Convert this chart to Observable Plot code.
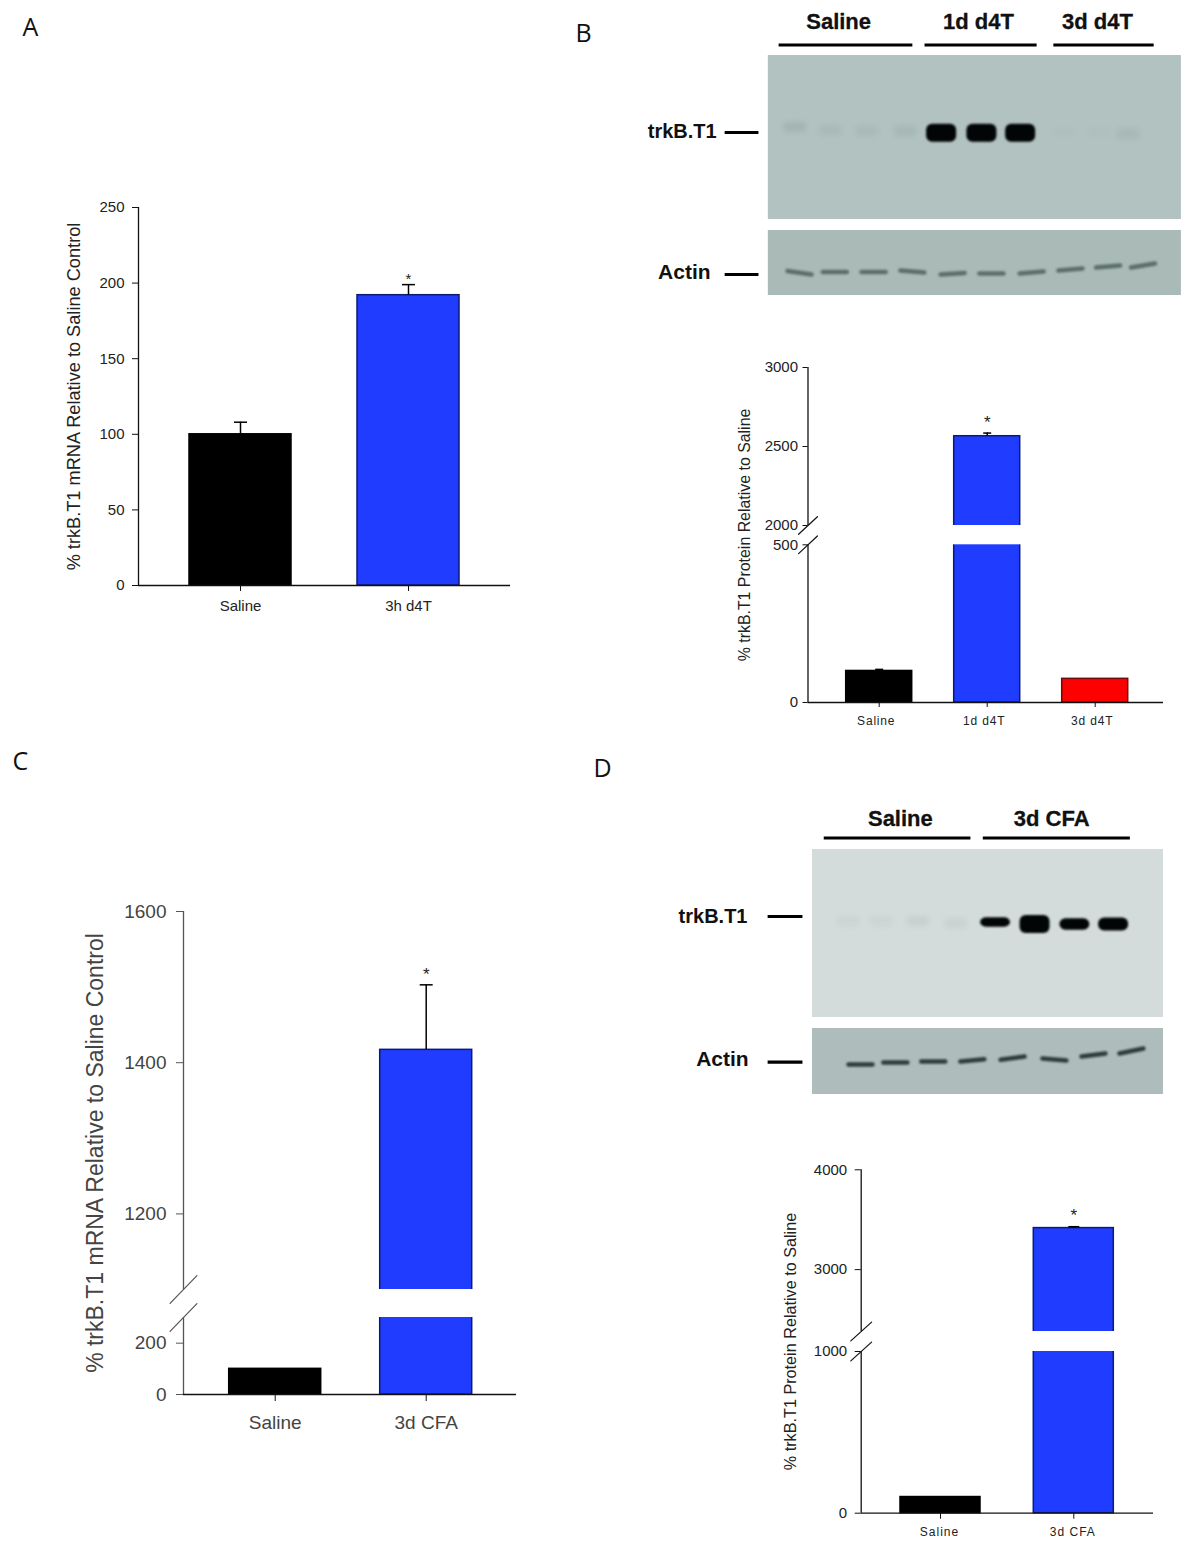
<!DOCTYPE html>
<html>
<head>
<meta charset="utf-8">
<script src="https://cdn.jsdelivr.net/npm/d3@7"></script>
<script src="https://cdn.jsdelivr.net/npm/@observablehq/plot@0.6"></script>
<style>
html,body{margin:0;padding:0;background:#fff}
#page{position:relative;width:1200px;height:1553px;overflow:hidden;background:#fff}
#page svg{position:absolute;background:transparent;overflow:visible}
</style>
</head>
<body>
<div id="page"></div>
<script>
// ---------- bar chart values ----------
const catsA = ["Saline", "3h d4T"];
const valuesA = [100, 192];
const errorsA = [108, 199];
const starsA = [1];
const ticksA = [0, 50, 100, 150, 200, 250];
const labelA = "% trkB.T1 mRNA Relative to Saline Control";

const catsB = ["Saline", "1d d4T", "3d d4T"];
const valuesB = [100, 2565, 75];
const errorsB = [105, 2585, null];
const starsB = [1];
const ticksB = [0, 500, 2000, 2500, 3000];
const breakB = [500, 2000];
const labelB = "% trkB.T1 Protein Relative to Saline";

const catsC = ["Saline", "3d CFA"];
const valuesC = [100, 1417];
const errorsC = [null, 1503];
const starsC = [1];
const ticksC = [0, 200, 1200, 1400, 1600];
const breakC = [300, 1100];
const labelC = "% trkB.T1 mRNA Relative to Saline Control";

const catsD = ["Saline", "3d CFA"];
const valuesD = [100, 3416];
const errorsD = [null, 3430];
const starsD = [1];
const ticksD = [0, 1000, 3000, 4000];
const breakD = [1000, 2380];
const labelD = "% trkB.T1 Protein Relative to Saline";

const barColors = ["#000000", "#1f3cff", "#ff0000"];
const barEdges = ["#000000", "#0c1a70", "#6d0a0a"];

// ---------- blot readings (lane number, migration distance, signal) ----------
const groupsB = ["Saline", "1d d4T", "3d d4T"];
const groupStartB = [0.45, 4.29, 7.68];
const groupEndB = [3.97, 7.24, 10.32];
const groupMidB = [2.03, 5.71, 8.84];
const trkLaneB = [0.89, 1.82, 2.78, 3.79, 4.74, 5.8, 6.82, 7.95, 8.9, 9.66];
const trkSignalB = [0.09, 0.05, 0.05, 0.07, 1, 1, 1, 0.015, 0.01, 0.06];
const trkMigrationB = [72, 75, 76, 76, 77.7, 77.7, 77.7, 77, 77, 79];
const actinLaneB = [1, 1.93, 2.95, 3.97, 5.03, 6.05, 7.11, 8.13, 9.12, 10.04];
const actinLeftB = [40.5, 41.5, 41.5, 40, 44, 43, 43, 40, 37, 37];
const actinRightB = [44, 41.5, 41.5, 42, 42.5, 43, 41, 38, 35, 33];

const groupsD = ["Saline", "3d CFA"];
const groupStartD = [0.05, 4.16];
const groupEndD = [3.84, 7.96];
const groupMidD = [2.03, 5.94];
const trkLaneD = [0.7, 1.55, 2.49, 3.47, 4.49, 5.51, 6.54, 7.54];
const trkSignalD = [0.04, 0.04, 0.06, 0.05, 0.72, 1, 0.8, 0.85];
const trkMigrationD = [72, 72, 72, 74, 73, 75, 75, 75];
const actinLaneD = [1, 1.9, 2.88, 3.89, 4.93, 6.01, 7.02, 8];
const actinLeftD = [36, 34, 33, 33, 31.3, 30, 28, 25];
const actinRightD = [36, 34, 33, 30.7, 28, 32, 25, 20];

// ---------- layout ----------
const page = document.getElementById("page");
const FONT = "'Liberation Sans', Arial, sans-serif";
function place(svg, box) {
  svg.style.left = box.left + "px";
  svg.style.top = box.top + "px";
  page.appendChild(svg);
}

function barPanel(o) {
  const b = o.box;
  const c0 = o.centers[0], c1 = o.centers[1];
  const half = o.barWidth / 2 / (c1 - c0);
  const capHalf = o.cap / (c1 - c0);
  const axisAt = (o.axisX - c0) / (c1 - c0);
  const bars = o.values.map((v, i) => ({i, v, e: o.errors[i]}));
  const errs = bars.filter(d => d.e != null);
  const yDomain = o.brk ? [0, o.brk[0], o.brk[1], o.top] : [0, o.top];
  const yR = o.yRange.map(v => v - b.top);
  const frameTop = o.yRange[o.yRange.length - 1];
  const segs = o.brk ? [[0, o.brk[0]], [o.brk[1], o.top]] : [[0, o.top]];
  const tickIdx = o.values.map((_, i) => i);
  const ink = o.ink || "#222";
  const marks = [
    Plot.rect(bars, {x1: d => d.i - half, x2: d => d.i + half, y1: 0, y2: d => d.v,
      fill: d => barColors[o.colorIdx[d.i]], stroke: d => barEdges[o.colorIdx[d.i]], strokeWidth: 1.5})
  ];
  if (o.brk) {
    marks.push(Plot.rect(bars.filter(d => d.v > o.brk[1]), {
      x1: d => d.i - half * 1.1, x2: d => d.i + half * 1.1, y1: o.brk[0], y2: o.brk[1], fill: "#fff"}));
    marks.push(Plot.vector(o.brk, {y: d => d, frameAnchor: "left", length: o.slash[0], rotate: o.slash[1],
      anchor: "middle", stroke: o.axisColor, strokeWidth: 1.2,
      shape: {draw(ctx, l) { ctx.moveTo(0, 0); ctx.lineTo(0, -l); }}}));
  }
  marks.push(
    Plot.ruleX(errs, {x: d => d.i, y1: d => d.v, y2: d => d.e, stroke: "#000", strokeWidth: 1.5}),
    Plot.link(errs, {x1: d => d.i - capHalf, x2: d => d.i + capHalf, y1: d => d.e, y2: d => d.e, stroke: "#000", strokeWidth: 1.5}),
    Plot.text(o.stars, {x: i => i, y: i => o.errors[i], text: () => "*", dy: o.starDy, fontSize: o.starSize, fill: "#222"}),
    Plot.ruleX(segs, {x: () => axisAt, y1: d => d[0], y2: d => d[1], stroke: o.axisColor, strokeWidth: 1.3}),
    Plot.ruleY([0], {stroke: "#111", strokeWidth: 1.3}),
    Plot.axisY({ticks: o.ticks, tickSize: o.tick, tickPadding: o.tickPad, tickFormat: d => String(d), fontSize: o.fontY, label: null, stroke: o.axisColor, color: ink}),
    Plot.axisX({ticks: tickIdx, tickSize: o.tick, tickFormat: () => "", label: null, stroke: "#111"}),
    Plot.axisX({ticks: tickIdx, tickSize: 0, tickPadding: o.xPad, tickFormat: i => o.cats[i], fontSize: o.fontX, label: null, color: ink, dx: o.labelShift || 0}),
    Plot.text([o.label], {frameAnchor: "left", textAnchor: "middle", dx: o.labelDx, rotate: -90, fontSize: o.labelSize, fill: ink})
  );
  if (o.letter) marks.push(Plot.text([o.letter[0]], {frameAnchor: "top-left", textAnchor: "start",
    dx: o.letter[1] - o.axisX, dy: o.letter[2] - frameTop, fontSize: 25, fontFamily: "'Open Sans'", fill: "#111"}));
  const svg = Plot.plot({
    width: b.w, height: b.h,
    marginLeft: o.axisX - b.left,
    marginRight: b.left + b.w - o.xEnd,
    marginTop: frameTop - b.top,
    marginBottom: b.top + b.h - o.yRange[0],
    x: {type: "linear", domain: [0, 1], range: [c0 - b.left, c1 - b.left]},
    y: {type: "linear", domain: yDomain, range: yR},
    style: {fontFamily: FONT, background: "transparent"},
    marks
  });
  if (o.spacing) svg.querySelectorAll('[aria-label="x-axis tick label"]').forEach(g => { g.style.letterSpacing = o.spacing; });
  place(svg, b);
}

function blotPanel(o) {
  const b = o.box;
  const laneStep = o.laneStep;
  const y0 = o.gelTop - b.top;
  const yA = o.actinTop - b.top;
  const trk = o.trkLane.map((l, i) => ({l, s: o.trkSignal[i], m: o.trkMigration[i]}));
  const act = o.actinLane.map((l, i) => ({l, a: o.actinLeft[i], c: o.actinRight[i]}));
  const groups = o.groups.map((g, i) => ({g, s: o.groupStart[i], e: o.groupEnd[i], m: o.groupMid[i]}));
  const hw = 15 / laneStep, ahw = 12 / laneStep;
  const band = s => 18 * s * s;
  const svg = Plot.plot({
    width: b.w, height: b.h, margin: 0,
    x: {type: "linear", domain: [1, 2], range: [o.lane1 - b.left, o.lane1 + laneStep - b.left], axis: null},
    y: {type: "linear", domain: [0, b.h], range: [0, b.h], axis: null},
    style: {fontFamily: FONT, background: "transparent"},
    marks: [
      // gels
      Plot.rect([0], {x1: o.gelX[0], x2: o.gelX[1], y1: y0, y2: y0 + o.gelH, fill: o.gelColor}),
      Plot.rect([0], {x1: o.gelX[0], x2: o.gelX[1], y1: yA, y2: yA + o.actinH, fill: o.actinColor}),
      // faint trkB.T1 bands
      Plot.rect(trk.filter(d => d.s <= .5), {x1: d => d.l - hw * .75, x2: d => d.l + hw * .75,
        y1: d => y0 + d.m - 5, y2: d => y0 + d.m + 5,
        fill: "#1a2a28", fillOpacity: d => d.s, rx: 4, imageFilter: "blur(2.5px)"}),
      // strong trkB.T1 bands
      Plot.rect(trk.filter(d => d.s > .5), {x1: d => d.l - hw, x2: d => d.l + hw,
        y1: d => y0 + d.m - band(d.s) / 2, y2: d => y0 + d.m + band(d.s) / 2,
        fill: "#020505", rx: 6, imageFilter: "blur(0.9px)"}),
      // actin bands
      Plot.link(act, {x1: d => d.l - ahw, x2: d => d.l + ahw, y1: d => yA + d.a, y2: d => yA + d.c,
        stroke: o.actinBand, strokeWidth: 4.5, strokeLinecap: "round", imageFilter: "blur(0.9px)"}),
      // group headers
      Plot.link(groups, {x1: "s", x2: "e", y1: o.headY - b.top, y2: o.headY - b.top, stroke: "#000", strokeWidth: 3}),
      Plot.text(groups, {x: "m", y: o.headTextY - b.top, text: "g", fontSize: 22, fontWeight: "bold", fill: "#111", stroke: "#111", strokeWidth: 0.3}),
      // row markers
      Plot.link([y0 + o.trkDash, yA + o.actDash], {x1: o.dash[0], x2: o.dash[1], y1: d => d, y2: d => d, stroke: "#000", strokeWidth: 3.2}),
      Plot.text(["trkB.T1", "Actin"], {x: (d, i) => o.nameEnd[i], y: (d, i) => o.nameY[i] - b.top, text: d => d,
        textAnchor: "end", fontSize: d => d === "Actin" ? 21 : 20, fontWeight: "bold", fill: "#111"}),
      Plot.text([o.letter[0]], {frameAnchor: "top-left", textAnchor: "start", dx: o.letter[1] - b.left, dy: o.letter[2] - b.top,
        fontSize: 25, fontFamily: "'Open Sans'", fill: "#111"})
    ]
  });
  place(svg, b);
}

// ---------- panels ----------
barPanel({
  box: {left: 0, top: 0, w: 560, h: 680}, axisX: 138, xEnd: 510, yRange: [585, 207], top: 250,
  centers: [240, 408], barWidth: 102, cap: 6.5, cats: catsA, values: valuesA, errors: errorsA, stars: starsA, colorIdx: [0, 1],
  ticks: ticksA, tick: 6, tickPad: 8, fontY: 15, fontX: 15, xPad: 15, label: labelA, labelDx: -64, labelSize: 18.2, starSize: 15, starDy: -5,
  axisColor: "#111", letter: ["A", 22, 18]
});
barPanel({
  box: {left: 700, top: 350, w: 500, h: 390}, axisX: 807.5, xEnd: 1163, yRange: [702, 544.3, 525, 367], top: 3000, brk: breakB,
  centers: [878.7, 986.7], barWidth: 66, cap: 4, cats: catsB, values: valuesB, errors: errorsB, stars: starsB, colorIdx: [0, 1, 2],
  ticks: ticksB, tick: 5, tickPad: 5, fontY: 15, fontX: 12, xPad: 14, labelShift: -3, label: labelB, labelDx: -63, labelSize: 15.9, starSize: 17, starDy: -11,
  axisColor: "#111", slash: [25.8, 47], spacing: "0.8px"
});
barPanel({
  box: {left: 0, top: 740, w: 560, h: 720}, axisX: 183, xEnd: 516, yRange: [1394, 1317, 1289, 911], top: 1600, brk: breakC,
  centers: [274.7, 425.7], barWidth: 92, cap: 6.5, cats: catsC, values: valuesC, errors: errorsC, stars: starsC, colorIdx: [0, 1],
  ticks: ticksC, tick: 7, tickPad: 10, fontY: 19, fontX: 19, xPad: 21, label: labelC, labelDx: -88, labelSize: 23, starSize: 17, starDy: -10,
  axisColor: "#555", ink: "#444", slash: [38.7, 44], letter: ["C", 12, 752]
});
barPanel({
  box: {left: 760, top: 1150, w: 440, h: 403}, axisX: 860.7, xEnd: 1153, yRange: [1512.7, 1351, 1331, 1169.3], top: 4000, brk: breakD,
  centers: [940, 1073.3], barWidth: 80, cap: 5.5, cats: catsD, values: valuesD, errors: errorsD, stars: starsD, colorIdx: [0, 1],
  ticks: ticksD, tick: 6, tickPad: 8, fontY: 15, fontX: 12, xPad: 14, labelShift: -1, label: labelD, labelDx: -70, labelSize: 16.2, starSize: 17, starDy: -11,
  axisColor: "#111", slash: [28, 48], spacing: "1px"
});
blotPanel({
  box: {left: 560, top: 0, w: 640, h: 310}, lane1: 799, laneStep: 38, gelTop: 55, gelH: 164, actinTop: 230, actinH: 65,
  gelX: [0.18, 11.05], gelColor: "#b2c2c0", actinColor: "#a9bab7", actinBand: "#5c6e6b",
  groups: groupsB, groupStart: groupStartB, groupEnd: groupEndB, groupMid: groupMidB, headY: 44.5, headTextY: 21,
  trkLane: trkLaneB, trkSignal: trkSignalB, trkMigration: trkMigrationB,
  actinLane: actinLaneB, actinLeft: actinLeftB, actinRight: actinRightB,
  trkDash: 77, actDash: 44, dash: [-0.97, -0.08], nameEnd: [-1.18, -1.34], nameY: [131, 272],
  letter: ["B", 575, 24]
});
blotPanel({
  box: {left: 580, top: 745, w: 620, h: 360}, lane1: 860, laneStep: 38.7, gelTop: 849, gelH: 168, actinTop: 1028, actinH: 66,
  gelX: [-0.24, 8.83], gelColor: "#d3dcdb", actinColor: "#aebdbb", actinBand: "#2d3c3a",
  groups: groupsD, groupStart: groupStartD, groupEnd: groupEndD, groupMid: groupMidD, headY: 837.5, headTextY: 818,
  trkLane: trkLaneD, trkSignal: trkSignalD, trkMigration: trkMigrationD,
  actinLane: actinLaneD, actinLeft: actinLeftD, actinRight: actinRightD,
  trkDash: 67, actDash: 33.7, dash: [-1.4, -0.5], nameEnd: [-1.92, -1.89], nameY: [916, 1059],
  letter: ["D", 593, 759]
});
</script>
</body>
</html>
